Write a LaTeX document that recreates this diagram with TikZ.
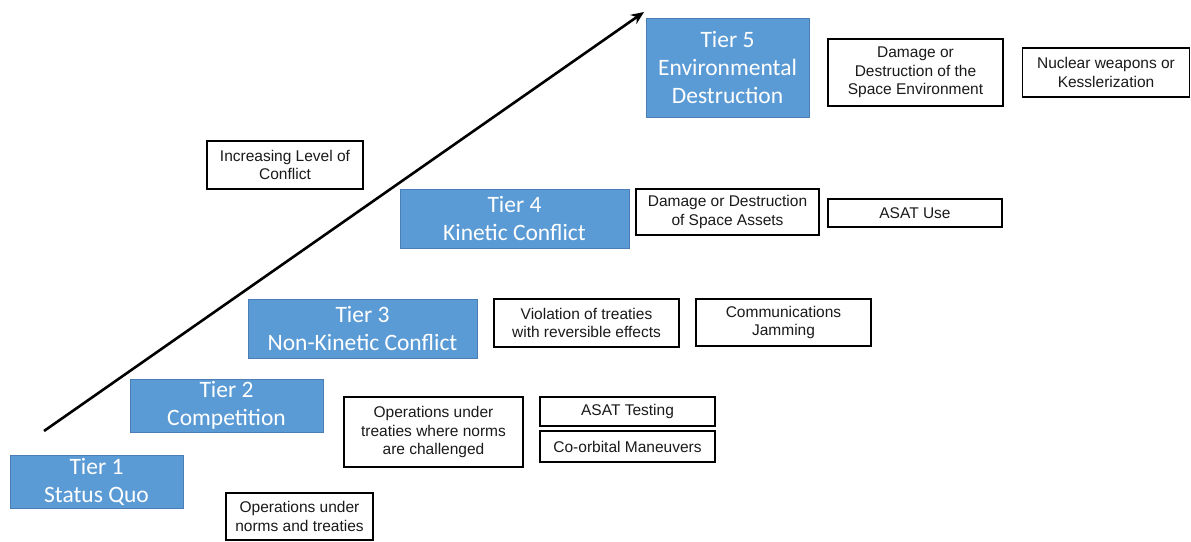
\documentclass[tikz,border=0pt]{standalone}
\usepackage{fontspec}
\setmainfont{Liberation Sans}
\newfontfamily\tierfont{Carlito}
\usetikzlibrary{arrows.meta}
\definecolor{tierblue}{HTML}{5B9BD5}
\definecolor{tierline}{HTML}{4A7EB5}
\definecolor{boxtext}{HTML}{1A1A1A}
\begin{document}
\begin{tikzpicture}[x=1pt,y=-1pt,
  tier/.style={draw=tierline, line width=1pt, fill=tierblue, text=white, align=center,
    inner sep=0pt, font=\tierfont\fontsize{23.5}{28}\selectfont},
  info/.style={draw=black, line width=1.4pt, fill=white, text=boxtext, align=center,
    inner sep=0pt, font=\fontsize{15.5}{18.5}\selectfont},
  arrowline/.style={line width=2.6pt, -{Stealth[length=13pt,width=11pt]}}
]
\useasboundingbox (0,0) rectangle (1191,541);
% tiers
\node[tier, minimum width=173pt, minimum height=53pt] (t1) at (96.5,481.5) {Tier 1\\Status Quo};
\node[tier, minimum width=193pt, minimum height=53pt] (t2) at (226.5,405.5) {Tier 2\\Competition};
\node[tier, minimum width=229pt, minimum height=59pt] (t3) at (362.5,328.5) {Tier 3\\Non-Kinetic Conflict};
\node[tier, minimum width=229pt, minimum height=59pt] (t4) at (514.5,218.5) {Tier 4\\Kinetic Conflict};
\node[tier, minimum width=163pt, minimum height=99pt] (t5) at (727.5,67.5) {Tier 5\\Environmental\\Destruction};
% info boxes
\node[info, minimum width=156pt, minimum height=48pt] (inc) at (285,165) {Increasing Level of\\Conflict};
\node[info, minimum width=147pt, minimum height=47pt] (ops1) at (299.5,516.5) {Operations under\\norms and treaties};
\node[info, minimum width=179pt, minimum height=70pt] (ops2) at (433.5,432) {Operations under\\treaties where norms\\are challenged};
\node[info, minimum width=175pt, minimum height=29pt] (asatt) at (627.5,411.5) {ASAT Testing};
\node[info, minimum width=175pt, minimum height=31pt] (coorb) at (627.5,446.5) {Co-orbital Maneuvers};
\node[info, minimum width=185pt, minimum height=48pt] (viol) at (586.5,323) {Violation of treaties\\with reversible effects};
\node[info, minimum width=175pt, minimum height=47pt] (comm) at (783.5,322.5) {Communications\\Jamming};
\node[info, minimum width=183pt, minimum height=46pt] (dmg4) at (727.5,212) {Damage or Destruction\\of Space Assets};
\node[info, minimum width=174pt, minimum height=28pt] (asatu) at (915,213) {ASAT Use};
\node[info, minimum width=175pt, minimum height=67pt] (dmg5) at (915.5,72.5) {Damage or\\Destruction of the\\Space Environment};
\node[info, minimum width=167pt, minimum height=49pt] (nuc) at (1106,72.5) {Nuclear weapons or\\Kesslerization};
% arrow
\coordinate (as) at (44,431);
\coordinate (ae) at (644,12);
\draw[arrowline] (as) -- (ae);
\end{tikzpicture}
\end{document}
